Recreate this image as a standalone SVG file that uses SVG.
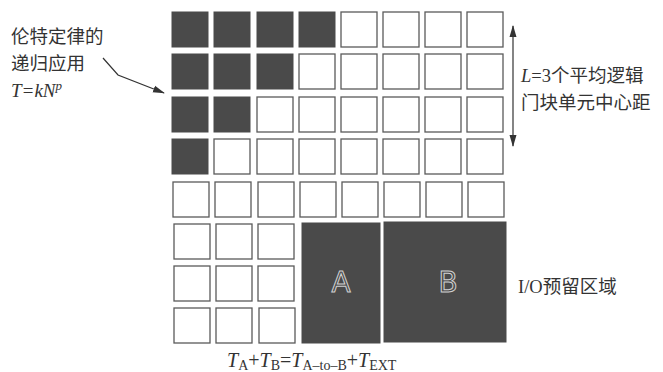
<svg xmlns="http://www.w3.org/2000/svg" width="663" height="372" viewBox="0 0 663 372">
<style>
.c{fill:#fff;stroke:#5a5a5a;stroke-width:1.3}
.d{fill:#4a4a4a;stroke:#4a4a4a;stroke-width:1}
.cn{font-family:"Noto Sans CJK SC","Noto Sans",sans-serif;font-size:18.5px;fill:#333}
.sf{font-family:"Liberation Serif",serif;fill:#333}
.ln{fill:none;stroke:#333;stroke-width:1.2}
.big{font-family:"DejaVu Sans",sans-serif;font-size:28px;fill:none;stroke:#d0d0d0;stroke-width:1}
</style>
<defs>
<marker id="ah" markerWidth="12" markerHeight="8" refX="11" refY="4" orient="auto-start-reverse" markerUnits="userSpaceOnUse">
<path d="M0,0.5 L12,4 L0,7.5 Z" fill="#333"/>
</marker>
<rect id="cell" width="36" height="35"/>
</defs>
<rect width="663" height="372" fill="#fff"/>
<g id="grid">
<use href="#cell" x="172" y="12" class="d"/><use href="#cell" x="214" y="12" class="d"/><use href="#cell" x="257" y="12" class="d"/><use href="#cell" x="299" y="12" class="d"/><use href="#cell" x="341" y="12" class="c"/><use href="#cell" x="383" y="12" class="c"/><use href="#cell" x="425" y="12" class="c"/><use href="#cell" x="467" y="12" class="c"/>
<use href="#cell" x="172" y="54" class="d"/><use href="#cell" x="214" y="54" class="d"/><use href="#cell" x="257" y="54" class="d"/><use href="#cell" x="299" y="54" class="c"/><use href="#cell" x="341" y="54" class="c"/><use href="#cell" x="383" y="54" class="c"/><use href="#cell" x="425" y="54" class="c"/><use href="#cell" x="467" y="54" class="c"/>
<use href="#cell" x="172" y="97" class="d"/><use href="#cell" x="214" y="97" class="d"/><use href="#cell" x="257" y="97" class="c"/><use href="#cell" x="299" y="97" class="c"/><use href="#cell" x="341" y="97" class="c"/><use href="#cell" x="383" y="97" class="c"/><use href="#cell" x="425" y="97" class="c"/><use href="#cell" x="467" y="97" class="c"/>
<use href="#cell" x="172" y="139" class="d"/><use href="#cell" x="214" y="139" class="c"/><use href="#cell" x="257" y="139" class="c"/><use href="#cell" x="299" y="139" class="c"/><use href="#cell" x="341" y="139" class="c"/><use href="#cell" x="383" y="139" class="c"/><use href="#cell" x="425" y="139" class="c"/><use href="#cell" x="467" y="139" class="c"/>
<use href="#cell" x="173" y="182" class="c"/><use href="#cell" x="215" y="182" class="c"/><use href="#cell" x="258" y="182" class="c"/><use href="#cell" x="300" y="182" class="c"/><use href="#cell" x="342" y="182" class="c"/><use href="#cell" x="384" y="182" class="c"/><use href="#cell" x="426" y="182" class="c"/><use href="#cell" x="468" y="182" class="c"/>
<use href="#cell" x="174" y="224" class="c"/><use href="#cell" x="216" y="224" class="c"/><use href="#cell" x="258" y="224" class="c"/>
<use href="#cell" x="174" y="266" class="c"/><use href="#cell" x="216" y="266" class="c"/><use href="#cell" x="258" y="266" class="c"/>
<use href="#cell" x="174" y="308" class="c"/><use href="#cell" x="216" y="308" class="c"/><use href="#cell" x="259" y="308" class="c"/>
</g>
<g id="blockA">
<rect x="302" y="223" width="78" height="120" class="d"/>
<text x="341" y="292" text-anchor="middle" class="big">A</text>
</g>
<g id="blockB">
<rect x="384" y="222" width="122" height="120" class="d"/>
<text x="448" y="292" text-anchor="middle" class="big">B</text>
</g>
<g id="connectors">
<polyline points="103,58 118,75 164,93" class="ln" marker-end="url(#ah)"/>
<line x1="513" y1="26" x2="513" y2="146" class="ln" marker-start="url(#ah)" marker-end="url(#ah)"/>
</g>
<g id="rentLabel">
<text x="11" y="43" class="cn">伦特定律的</text>
<text x="11" y="70" class="cn">递归应用</text>
<text x="11" y="97" class="sf" style="font-size:19px;font-style:italic">T=kN<tspan style="font-size:13px" dy="-7">p</tspan></text>
</g>
<g id="lLabel">
<text x="521" y="82" class="cn"><tspan class="sf" font-style="italic">L</tspan><tspan class="sf">=3</tspan>个平均逻辑</text>
<text x="521" y="109" class="cn">门块单元中心距</text>
</g>
<g id="ioLabel">
<text x="518" y="293" class="cn"><tspan class="sf">I/O</tspan>预留区域</text>
</g>
<g id="formula">
<text x="227" y="367" class="sf" style="font-size:20px"><tspan font-style="italic">T</tspan><tspan style="font-size:14px" dy="3">A</tspan><tspan dy="-3">+</tspan><tspan font-style="italic">T</tspan><tspan style="font-size:14px" dy="3">B</tspan><tspan dy="-3">=</tspan><tspan font-style="italic">T</tspan><tspan style="font-size:14px" dy="3">A–to–B</tspan><tspan dy="-3">+</tspan><tspan font-style="italic">T</tspan><tspan style="font-size:14px" dy="3">EXT</tspan></text>
</g>
</svg>
